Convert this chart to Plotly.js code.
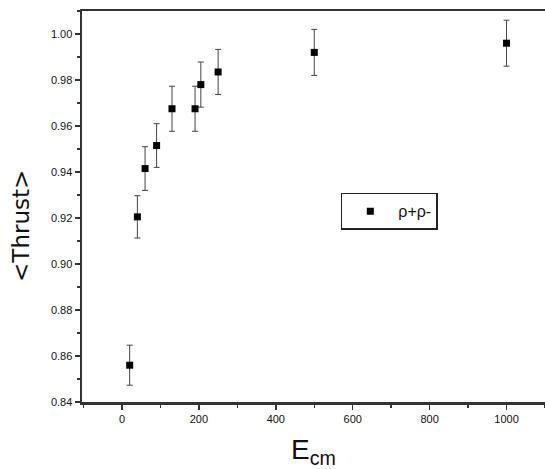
<!DOCTYPE html>
<html>
<head>
<meta charset="utf-8">
<script src="https://cdn.plot.ly/plotly-3.0.1.min.js"></script>
<style>html,body{margin:0;padding:0;background:#fff;}#chart{width:545px;height:469px;}</style>
</head>
<body>
<div id="chart"></div>
<script>
const ecm = [20, 40, 60, 90, 130, 190, 205, 250, 500, 1000];
const thrust = [0.856, 0.9205, 0.9415, 0.9515, 0.9675, 0.9675, 0.978, 0.9835, 0.992, 0.996];
const thrustErr = [0.0087, 0.0092, 0.0095, 0.0095, 0.0098, 0.0098, 0.0098, 0.0098, 0.0100, 0.0100];
const yTickVals = [0.84, 0.86, 0.88, 0.90, 0.92, 0.94, 0.96, 0.98, 1.00];
const yTickText = ["0.84", "0.86", "0.88", "0.90", "0.92", "0.94", "0.96", "0.98", "1.00"];
const xTickVals = [0, 200, 400, 600, 800, 1000];
const xTickText = ["0", "200", "400", "600", "800", "1000"];
const seriesName = "ρ+ρ-";

const trace = {
  x: ecm, y: thrust, type: 'scatter', mode: 'markers', name: seriesName,
  marker: {symbol: 'square', size: 7, color: '#000'},
  error_y: {type: 'data', array: thrustErr, visible: true, color: '#444', thickness: 1, width: 3}
};

const layout = {
  width: 545, height: 469,
  margin: {l: 82, r: 0, t: 11, b: 67},
  paper_bgcolor: '#fff', plot_bgcolor: '#fff',
  font: {family: 'Liberation Sans, Arial, sans-serif', color: '#222'},
  showlegend: true,
  legend: {x: 0.559, y: 0.535, xanchor: 'left', yanchor: 'top', bordercolor: '#222', borderwidth: 1.5,
           bgcolor: '#fff', font: {size: 16, color: '#111'}, itemwidth: 46},
  xaxis: {
    range: [-104, 1100], showgrid: false, zeroline: false,
    showline: true, linecolor: '#333', linewidth: 2.5, mirror: true,
    ticks: 'outside', ticklen: 5, tickwidth: 1.5, tickcolor: '#333',
    tickvals: xTickVals, ticktext: xTickText, tickfont: {size: 11, color: '#111'},
    minor: {dtick: 100, ticks: 'outside', ticklen: 3, tickcolor: '#333', tickwidth: 1.5},
    title: {text: 'E<sub>cm</sub>', font: {size: 28, color: '#111'}, standoff: 16}
  },
  yaxis: {
    range: [0.84, 1.01], showgrid: false, zeroline: false,
    showline: true, linecolor: '#333', linewidth: 2.5,
    ticks: 'outside', ticklen: 5, tickwidth: 1.5, tickcolor: '#333',
    tickvals: yTickVals, ticktext: yTickText, tickfont: {size: 11, color: '#111'},
    minor: {dtick: 0.01, ticks: 'outside', ticklen: 3, tickcolor: '#333', tickwidth: 1.5}
  },
  annotations: [{
    text: '<Thrust>', xref: 'paper', yref: 'paper', x: -0.132, y: 0.45,
    xanchor: 'center', yanchor: 'middle', textangle: -90, showarrow: false,
    font: {family: 'DejaVu Sans, sans-serif', size: 23, color: '#111'}
  }]
};

Plotly.newPlot('chart', [trace], layout, {displayModeBar: false, staticPlot: true});
</script>
</body>
</html>
